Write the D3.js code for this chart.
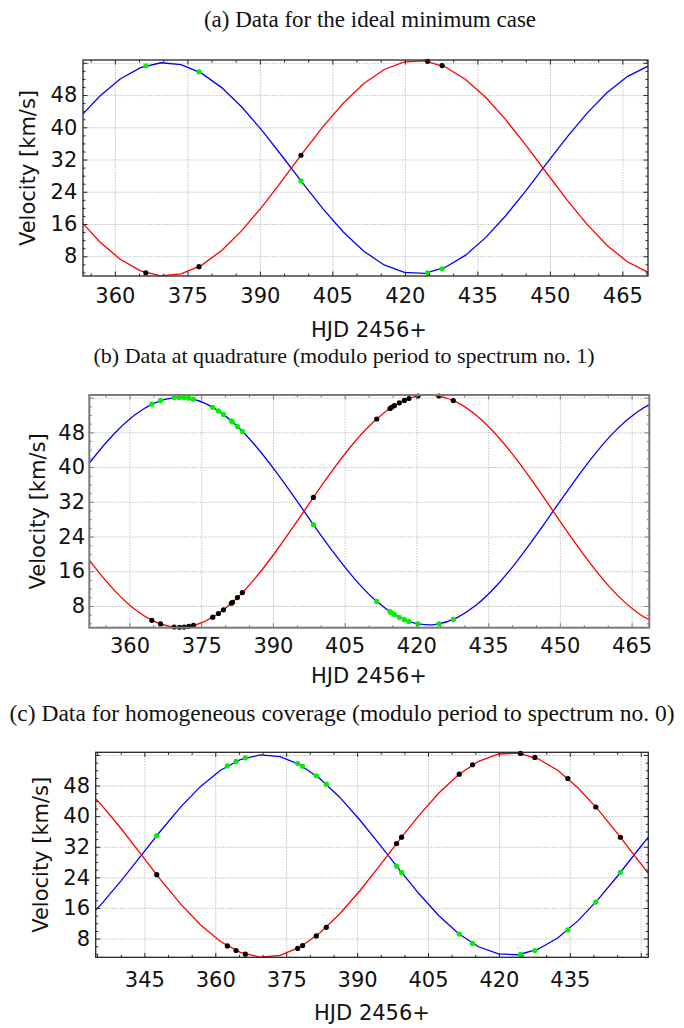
<!DOCTYPE html>
<html>
<head>
<meta charset="utf-8">
<script src="https://cdn.jsdelivr.net/npm/d3@7/dist/d3.min.js"></script>
<style>
  html, body { margin: 0; padding: 0; background: #fff; }
  svg { display: block; }
</style>
</head>
<body>
<svg id="chart" width="684" height="1028"></svg>
<script>
// ---------------- DATA ----------------
// model curves (HJD 2456+ , km/s)
const curveT = [331.7, 335.9, 340.1, 344.3, 348.5, 352.7, 356.9, 361.1, 365.3, 369.5, 373.7, 377.9, 382.1, 386.3, 390.5, 394.7, 398.9, 403.1, 407.3, 411.5, 415.7, 419.9, 424.1, 428.3, 432.5, 436.7, 440.9, 445.1, 449.3, 453.5, 457.7, 461.9, 466.1, 470.3, 474.5];
const curveRed = [48.39, 42.97, 36.71, 30.01, 23.30, 17.01, 11.55, 7.24, 4.38, 3.14, 3.61, 5.75, 9.43, 14.42, 20.38, 26.95, 33.71, 40.22, 46.06, 50.88, 54.35, 56.26, 56.48, 55.01, 51.93, 47.44, 41.83, 35.45, 28.72, 22.06, 15.90, 10.62, 6.58, 4.01, 3.10];
const curveBlue = [11.70, 17.00, 23.13, 29.69, 36.26, 42.43, 47.78, 52.00, 54.80, 56.01, 55.55, 53.45, 49.85, 44.97, 39.12, 32.69, 26.07, 19.70, 13.97, 9.25, 5.85, 3.98, 3.77, 5.21, 8.22, 12.62, 18.12, 24.36, 30.96, 37.48, 43.52, 48.69, 52.64, 55.15, 56.05];

// (a) ideal minimum case
const ptsA_t = [366.4, 377.4, 398.5, 424.7, 427.7];
const ptsA_black = [3.89, 5.41, 33.07, 56.38, 55.32];
const ptsA_green = [55.27, 53.78, 26.70, 3.87, 4.90];

// (b) quadrature
const ptsB_t = [364.67, 366.49, 369.34, 370.46, 371.43, 372.41, 373.38, 377.42, 378.61, 379.65, 381.3, 381.53, 382.58, 383.62, 398.46, 411.70, 414.48, 414.8, 415.39, 416.43, 417.48, 418.45, 420.33, 424.72, 427.72];
const ptsB_black = [4.71, 3.86, 3.16, 3.10, 3.15, 3.29, 3.52, 5.43, 6.27, 7.11, 8.63, 8.85, 9.95, 11.10, 33.00, 51.07, 53.49, 53.75, 54.14, 54.80, 55.36, 55.79, 56.36, 56.37, 55.31];
const ptsB_green = [54.48, 55.31, 56.00, 56.05, 56.01, 55.87, 55.64, 53.77, 52.94, 52.12, 50.64, 50.41, 49.35, 48.21, 26.76, 9.06, 6.69, 6.44, 6.06, 5.41, 4.86, 4.45, 3.88, 3.87, 4.91];

// (c) homogeneous coverage
const ptsC_t = [347.61, 362.55, 364.39, 366.36, 377.42, 378.48, 381.37, 383.48, 398.35, 399.41, 411.6, 414.42, 424.57, 427.6, 434.58, 440.5, 445.71];
const ptsC_black = [24.71, 6.08, 4.87, 3.91, 5.43, 6.17, 8.69, 10.94, 32.83, 34.52, 50.98, 53.45, 56.40, 55.37, 49.85, 42.40, 34.49];
const ptsC_green = [34.89, 53.13, 54.32, 55.26, 53.77, 53.04, 50.57, 48.37, 26.93, 25.28, 9.16, 6.74, 3.84, 4.86, 10.26, 17.56, 25.31];

// tick labels
const xTicksAB = [360, 375, 390, 405, 420, 435, 450, 465];
const xTicksC = [345, 360, 375, 390, 405, 420, 435];
const xTicksCUnlabeled = [450];
const yTicks = [8, 16, 24, 32, 40, 48];
const yTicksUnlabeled = [56];

const titles = [
  "(a) Data for the ideal minimum case",
  "(b) Data at quadrature (modulo period to spectrum no. 1)",
  "(c) Data for homogeneous coverage (modulo period to spectrum no. 0)"
];
const xLabel = "HJD 2456+";
const yLabel = "Velocity [km/s]";

// ---------------- LAYOUT ----------------
const panels = [
  { left: 83, top: 60, right: 648, bottom: 276, xDomain: [353.4, 470.3], yDomain: [3.1, 56.7],
    xTicks: xTicksAB, xExtra: [], title: titles[0], titleX: 370, titleY: 26.5, titleFS: 23,
    ylabX: 28, xlabX: 369, xlabY: 337, xPad: 12, yPad: 5.7, frame: "#262626", frameW: 1.3,
    pts: [ptsA_t, ptsA_black, ptsA_green], smooth: false },
  { left: 89.3, top: 395, right: 649.3, bottom: 627.7, xDomain: [351.6, 468.7], yDomain: [3.0, 56.6],
    xTicks: xTicksAB, xExtra: [], title: titles[1], titleX: 344, titleY: 363, titleFS: 22,
    ylabX: 38, xlabX: 369, xlabY: 683, xPad: 10.7, yPad: 4.3, frame: "#7a7a7a", frameW: 2,
    pts: [ptsB_t, ptsB_black, ptsB_green], smooth: true },
  { left: 95.7, top: 752.3, right: 648.3, bottom: 957.3, xDomain: [334.7, 451.6], yDomain: [3.1, 56.7],
    xTicks: xTicksC, xExtra: xTicksCUnlabeled, title: titles[2], titleX: 342, titleY: 721, titleFS: 23.5,
    ylabX: 41, xlabX: 372, xlabY: 1020, xPad: 14.5, yPad: 5.7, frame: "#262626", frameW: 1.3,
    pts: [ptsC_t, ptsC_black, ptsC_green], smooth: false }
];

const svg = d3.select("#chart");
const FS = 21;

panels.forEach((p, i) => {
  const g = svg.append("g");
  const x = d3.scaleLinear().domain(p.xDomain).range([p.left, p.right]);
  const y = d3.scaleLinear().domain(p.yDomain).range([p.bottom, p.top]);
  const W = p.right - p.left, H = p.bottom - p.top;
  const xMajorAll = p.xTicks.concat(p.xExtra);
  const yMajorAll = yTicks.concat(yTicksUnlabeled);
  const xMinor = d3.range(Math.ceil(p.xDomain[0] / 5) * 5, p.xDomain[1], 5).filter(v => v % 15 !== 0);
  const yMinor = d3.range(4, p.yDomain[1], 2).filter(v => v % 8 !== 0);

  // title
  svg.append("text").attr("x", p.titleX).attr("y", p.titleY)
    .attr("text-anchor", "middle").attr("font-family", "Liberation Serif, Times New Roman, serif")
    .attr("font-size", p.titleFS).attr("fill", "#111").text(p.title);

  // grid
  const gridStyle = s => {
    s.select(".domain").remove();
    s.selectAll(".tick line").attr("stroke", "#b4b4b4").attr("stroke-width", 0.8).attr("stroke-dasharray", "1.5,1.2");
  };
  g.append("g").attr("transform", `translate(0,${p.bottom})`)
    .call(d3.axisBottom(x).tickValues(xMajorAll).tickSize(-H).tickFormat(""))
    .call(gridStyle);
  g.append("g").attr("transform", `translate(${p.left},0)`)
    .call(d3.axisLeft(y).tickValues(yMajorAll).tickSize(-W).tickFormat(""))
    .call(gridStyle);

  // clip
  const clipId = "clip" + i;
  svg.append("clipPath").attr("id", clipId).append("rect")
    .attr("x", p.left).attr("y", p.top).attr("width", W).attr("height", H);

  const curveType = p.smooth ? d3.curveNatural : d3.curveLinear;
  const line = d3.line().x((d, k) => x(curveT[k])).y(d => y(d)).curve(curveType);
  const plotG = g.append("g").attr("clip-path", `url(#${clipId})`);
  plotG.append("path").attr("d", line(curveBlue)).attr("fill", "none").attr("stroke", "#0000ff").attr("stroke-width", 1.3);
  plotG.append("path").attr("d", line(curveRed)).attr("fill", "none").attr("stroke", "#ff0000").attr("stroke-width", 1.3);

  // points
  const [pt, pb, pgn] = p.pts;
  g.append("g").selectAll("circle").data(pb).join("circle")
    .attr("cx", (d, k) => x(pt[k])).attr("cy", d => y(d)).attr("r", 2.6).attr("fill", "#000");
  g.append("g").selectAll("circle").data(pgn).join("circle")
    .attr("cx", (d, k) => x(pt[k])).attr("cy", d => y(d)).attr("r", 2.6).attr("fill", "#00f000");

  // ticks (inward, all sides)
  const tickStyle = s => {
    s.select(".domain").remove();
    s.selectAll(".tick line").attr("stroke", p.frame).attr("stroke-width", 1);
  };
  const addTicks = (axisFn, scale, vals, len, tr) => {
    g.append("g").attr("transform", tr)
      .call(axisFn(scale).tickValues(vals).tickSize(-len).tickFormat(""))
      .call(tickStyle);
  };
  addTicks(d3.axisBottom, x, xMajorAll, 4.5, `translate(0,${p.bottom})`);
  addTicks(d3.axisBottom, x, xMinor, 2.5, `translate(0,${p.bottom})`);
  addTicks(d3.axisTop, x, xMajorAll, 4.5, `translate(0,${p.top})`);
  addTicks(d3.axisTop, x, xMinor, 2.5, `translate(0,${p.top})`);
  addTicks(d3.axisLeft, y, yMajorAll, 4.5, `translate(${p.left},0)`);
  addTicks(d3.axisLeft, y, yMinor, 2.5, `translate(${p.left},0)`);
  addTicks(d3.axisRight, y, yMajorAll, 4.5, `translate(${p.right},0)`);
  addTicks(d3.axisRight, y, yMinor, 2.5, `translate(${p.right},0)`);

  // frame
  g.append("rect").attr("x", p.left).attr("y", p.top).attr("width", W).attr("height", H)
    .attr("fill", "none").attr("stroke", p.frame).attr("stroke-width", p.frameW);

  // tick labels
  const labStyle = s => {
    s.select(".domain").remove();
    s.selectAll(".tick line").remove();
    s.selectAll("text").attr("font-family", "DejaVu Sans, sans-serif").attr("font-size", FS).attr("fill", "#111");
  };
  g.append("g").attr("transform", `translate(0,${p.bottom})`)
    .call(d3.axisBottom(x).tickValues(p.xTicks).tickSize(0).tickPadding(p.xPad).tickFormat(d3.format("d")))
    .call(labStyle);
  g.append("g").attr("transform", `translate(${p.left},0)`)
    .call(d3.axisLeft(y).tickValues(yTicks).tickSize(0).tickPadding(p.yPad).tickFormat(d3.format("d")))
    .call(labStyle);

  // axis labels
  svg.append("text").attr("x", p.xlabX).attr("y", p.xlabY).attr("text-anchor", "middle")
    .attr("font-family", "DejaVu Sans, sans-serif").attr("font-size", FS).attr("fill", "#111").text(xLabel);
  svg.append("text").attr("transform", `translate(${p.ylabX},${(p.top + p.bottom) / 2}) rotate(-90)`)
    .attr("text-anchor", "middle").attr("dy", "0.35em")
    .attr("font-family", "DejaVu Sans, sans-serif").attr("font-size", FS).attr("fill", "#111").text(yLabel);
});
</script>
</body>
</html>
